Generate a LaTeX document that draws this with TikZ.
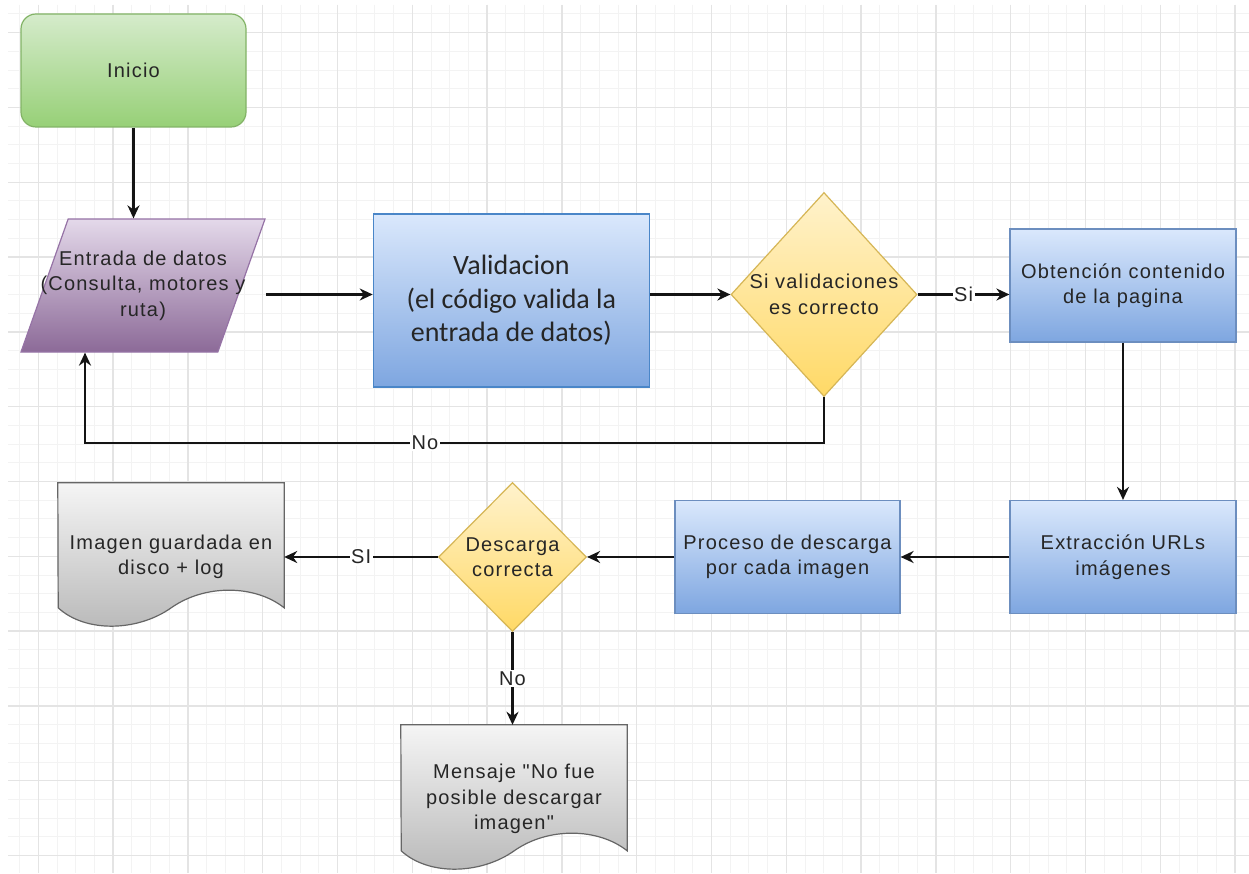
\documentclass[tikz,border=0pt]{standalone}
\usepackage{fontspec}
\setmainfont{Liberation Sans}[LetterSpace=6,Ligatures=TeXOff]
\newfontfamily\calibrifont{Carlito}
\usetikzlibrary{shapes.geometric,arrows.meta,backgrounds}
\definecolor{gridmenor}{HTML}{F3F3F3}
\definecolor{gridmayor}{HTML}{E4E4E4}
\definecolor{texto}{HTML}{262626}
\definecolor{verdeA}{HTML}{D5EBCB}
\definecolor{verdeB}{HTML}{97D077}
\definecolor{verdeborde}{HTML}{82B366}
\definecolor{moradoA}{HTML}{E4D9EA}
\definecolor{moradoB}{HTML}{8C6A98}
\definecolor{moradoborde}{HTML}{9673A6}
\definecolor{azulA}{HTML}{DAE8FC}
\definecolor{azulB}{HTML}{7EA6E0}
\definecolor{azulborde}{HTML}{6C8EBF}
\definecolor{azulfuerte}{HTML}{4A86C8}
\definecolor{amarilloA}{HTML}{FFF2CC}
\definecolor{amarilloB}{HTML}{FFD966}
\definecolor{amarilloborde}{HTML}{D6B656}
\definecolor{grisA}{HTML}{F5F5F5}
\definecolor{grisB}{HTML}{B8B8B8}
\definecolor{grisborde}{HTML}{666666}
\definecolor{negro}{HTML}{141414}
\begin{document}
\begin{tikzpicture}[x=1pt,y=-1pt]
		\tikzstyle{every node}=[font=\fontsize{20}{25.5}\selectfont,text=texto,align=center]
		\tikzstyle{inicio}=[rectangle,rounded corners=15pt,draw=verdeborde,line width=1.2pt,top color=verdeA,bottom color=verdeB,minimum width=225,minimum height=113]
		\tikzstyle{entrada}=[trapezium,trapezium left angle=72.5,trapezium right angle=107.5,trapezium stretches=true,draw=moradoborde,line width=1.2pt,top color=moradoA,bottom color=moradoB,minimum width=244,minimum height=133]
		\tikzstyle{proc}=[rectangle,draw=azulborde,line width=1.2pt,top color=azulA,bottom color=azulB,minimum width=226,minimum height=113,inner sep=2pt]
		\tikzstyle{decision}=[diamond,draw=amarilloborde,line width=1.2pt,top color=amarilloA,bottom color=amarilloB,inner sep=0pt]
		\tikzstyle{doctxt}=[rectangle,minimum width=226,minimum height=148,inner sep=0pt]
		\tikzstyle{docforma}=[draw=grisborde,line width=1.2pt,top color=grisA,bottom color=grisB]
		\tikzstyle{flecha}=[draw=negro,line width=2.2pt,-{Stealth[length=13pt,width=12pt]}]
		\tikzstyle{etiqueta}=[fill=white,inner sep=1.5pt]
		\useasboundingbox (0,0) rectangle (1249,874);
		\begin{scope}[on background layer]
			\fill[white] (0,0) rectangle (1249,874);
			\foreach \i in {-1,...,64} \draw[gridmenor,line width=1pt] ({38.3+18.7*\i},5) -- ({38.3+18.7*\i},873);
			\foreach \j in {-1,...,44} \draw[gridmenor,line width=1pt] (8,{32.7+18.7*\j}) -- (1249,{32.7+18.7*\j});
			\foreach \i in {0,...,16} \draw[gridmayor,line width=1.3pt] ({38.3+74.8*\i},5) -- ({38.3+74.8*\i},873);
			\foreach \j in {0,...,11} \draw[gridmayor,line width=1.3pt] (8,{32.7+74.8*\j}) -- (1249,{32.7+74.8*\j});
		\end{scope}
		\node[inicio] (inicio) at (133.5,70.5) {Inicio};
		\node[entrada,label={center:{Entrada de datos\\(Consulta, motores y\\ruta)}}] (entrada) at (143,285.5) {};
		\node[proc,draw=azulfuerte,minimum width=276,minimum height=173,font=\calibrifont\fontsize{28}{33.5}\selectfont] (validacion) at (511.3,300.5) {Validacion\\(el código valida la\\entrada de datos)};
		\node[decision,minimum width=186,minimum height=204,label={center:{Si validaciones\\es correcto}}] (decision1) at (824,294.5) {};
		\node[proc] (obtencion) at (1123,285.5) {Obtención contenido\\de la pagina};
		\node[proc] (extraccion) at (1123,557) {Extracción URLs\\imágenes};
		\node[proc,minimum width=225] (proceso) at (787.5,557) {Proceso de descarga\\por cada imagen};
		\node[decision,minimum width=148,minimum height=149,label={center:{Descarga\\correcta}}] (decision2) at (512.5,557) {};
		\node[doctxt] (imagen) at (171,557) {Imagen guardada en\\disco + log};
		\node[doctxt] (mensaje) at (514,799) {Mensaje "No fue\\posible descargar\\imagen"};
		\begin{scope}[on background layer]
			\draw[docforma] (imagen.north west) -- (imagen.north east) -- ++(0,125) .. controls +(-29,-23) and +(34,-24) .. ++(-113,0) .. controls +(-34,24) and +(27,25) .. ++(-113,0) -- cycle;
			\draw[docforma] (mensaje.north west) -- (mensaje.north east) -- ++(0,126) .. controls +(-29,-23) and +(34,-24) .. ++(-113,0) .. controls +(-34,24) and +(27,25) .. ++(-113,0) -- cycle;
		\end{scope}
		\coordinate (retorno) at (85,443);
		\draw[flecha] (inicio.south) -- (inicio.south |- entrada.north);
		\draw[flecha] (entrada.top right corner |- decision1.west) -- (validacion.west |- decision1.west);
		\draw[flecha] (validacion.east |- decision1.west) -- (decision1.west);
		\draw[flecha] (decision1.east) -- node[etiqueta]{Si} (obtencion.west |- decision1.east);
		\draw[flecha] (decision1.south) |- (retorno) node[etiqueta,pos=0.77]{No} -- (retorno |- entrada.south);
		\draw[flecha] (obtencion.south) -- (extraccion.north);
		\draw[flecha] (extraccion.west) -- (proceso.east);
		\draw[flecha] (proceso.west) -- (decision2.east);
		\draw[flecha] (decision2.west) -- node[etiqueta]{SI} (imagen.east |- decision2.west);
		\draw[flecha] (decision2.south) -- node[etiqueta]{No} (decision2.south |- mensaje.north);
	    \end{tikzpicture}
\end{document}
